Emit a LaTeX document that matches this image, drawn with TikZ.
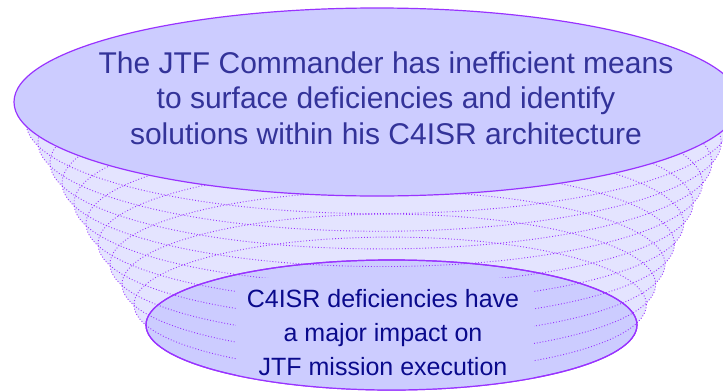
\documentclass[tikz,border=0pt]{standalone}
\usepackage{fontspec}
\setmainfont{Liberation Sans}
\definecolor{disc}{RGB}{204,204,255}
\definecolor{shell}{RGB}{228,228,255}
\definecolor{rim}{RGB}{153,51,255}
\definecolor{toptext}{RGB}{51,51,153}
\definecolor{bottext}{RGB}{10,10,140}
\tikzset{
  discstyle/.style={fill=disc, draw=rim, line width=1.2pt},
  ringfill/.style={fill=shell, draw=none},
  ringline/.style={draw=rim, line width=0.9pt, dash pattern=on 0.9pt off 2pt},
  toplabel/.style={font=\fontsize{30}{35}\selectfont, text=toptext, anchor=base, inner sep=0pt},
  botlabel/.style={font=\fontsize{25}{34}\selectfont, text=bottext, anchor=base, inner sep=0pt},
}
\begin{document}
\begin{tikzpicture}[x=1pt, y=-1pt]
\useasboundingbox (0,0) rectangle (723,391);
\clip (0,0) rectangle (723,391);
% stacked rings between the rim disc and the base disc
\foreach \k in {1,...,10} {
  \pgfmathsetmacro\t{\k/11}
  \pgfmathsetmacro\cx{377+14.5*\t}
  \pgfmathsetmacro\cy{102+223*\t}
  \pgfmathsetmacro\rx{363-117.5*\t}
  \pgfmathsetmacro\ry{94-29*\t}
  \path[ringfill] (\cx,\cy) ellipse [x radius=\rx pt, y radius=\ry pt];
}
% base disc
\path[discstyle] (391.5,325) ellipse [x radius=245.5pt, y radius=65pt];
\foreach \k in {1,...,10} {
  \pgfmathsetmacro\t{\k/11}
  \pgfmathsetmacro\cx{377+14.5*\t}
  \pgfmathsetmacro\cy{102+223*\t}
  \pgfmathsetmacro\rx{363-117.5*\t}
  \pgfmathsetmacro\ry{94-29*\t}
  \path[ringline] (\cx,\cy) ellipse [x radius=\rx pt, y radius=\ry pt];
}
% backing panel for the base text, kept inside the base disc
\begin{scope}
  \clip (391.5,325) ellipse [x radius=245.5pt, y radius=65pt];
  \fill[disc] (236,278) rectangle (534,391);
\end{scope}
\draw[draw=rim, line width=1.2pt] (391.5,325) ellipse [x radius=245.5pt, y radius=65pt];
\node[botlabel] (b1) at (383,307) {C4ISR deficiencies have};
\node[botlabel] (b2) at (383,341) {a major impact on};
\node[botlabel] (b3) at (383,375) {JTF mission execution};
% rim disc
\path[discstyle] (377,102) ellipse [x radius=363pt, y radius=94pt];
\node[toplabel] (t1) at (386,73) {The JTF Commander has inefficient means};
\node[toplabel] (t2) at (386,108.5) {to surface deficiencies and identify};
\node[toplabel] (t3) at (386,144) {solutions within his C4ISR architecture};
\end{tikzpicture}
\end{document}
